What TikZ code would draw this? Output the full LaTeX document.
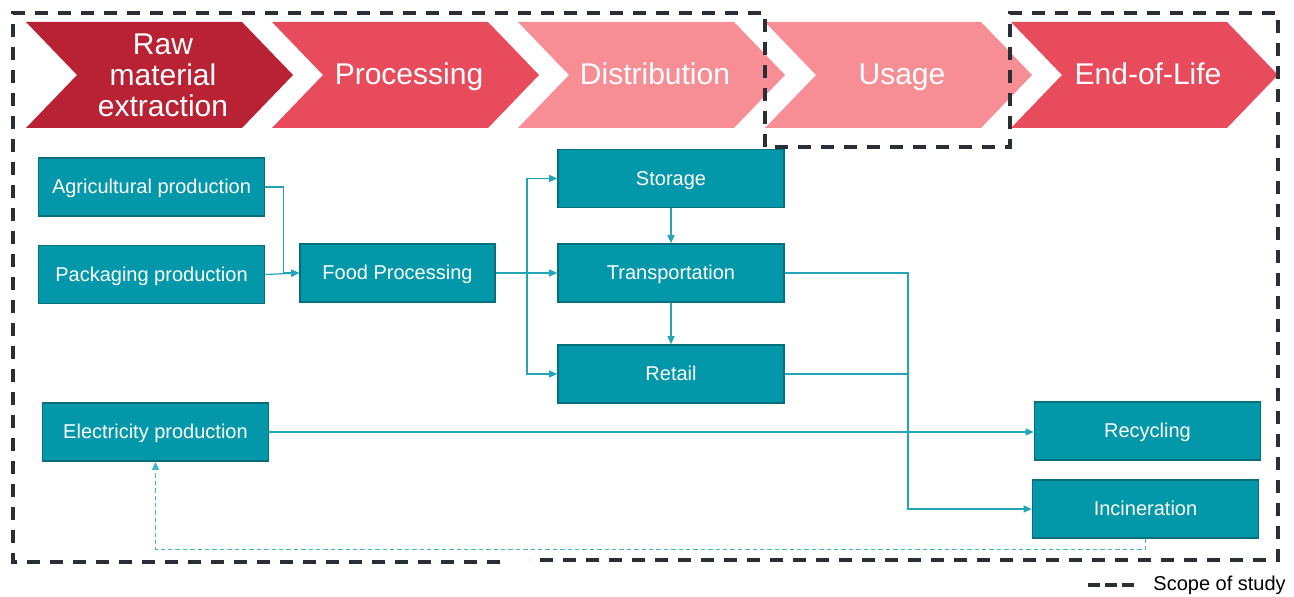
\documentclass[tikz,border=0pt]{standalone}
\usepackage{fontspec}
\setmainfont{Liberation Sans}
\usetikzlibrary{arrows.meta}

\definecolor{rawred}{HTML}{B82234}
\definecolor{stagered}{HTML}{E84B5B}
\definecolor{stagepink}{HTML}{F88E95}
\definecolor{boxfill}{HTML}{0397AA}
\definecolor{boxedge}{HTML}{056F7C}
\definecolor{flowteal}{HTML}{23A5B8}
\definecolor{loopteal}{HTML}{3DB6C9}
\definecolor{scopegrey}{HTML}{2A2F36}

\begin{document}
\begin{tikzpicture}[x=0.5pt,y=-0.5pt,
	stage/.style={text=white,align=center,font=\fontsize{15}{15.5}\selectfont},
	stageline/.style={stage,text height=12.5pt,text depth=2.5pt},
	proc/.style={draw=boxedge,line width=0.8pt,fill=boxfill,text=white,font=\fontsize{10}{12}\selectfont,minimum width=113pt,minimum height=29pt,inner sep=0pt,text height=8.5pt,text depth=1.5pt},
	flow/.style={draw=flowteal,line width=0.6pt,-{Triangle[length=4pt,width=3.5pt]}},
	link/.style={draw=flowteal,line width=0.6pt},
	scope/.style={draw=scopegrey,line width=2pt,dash pattern=on 6.5pt off 5pt}]
	\useasboundingbox (0,0) rectangle (1294,597);
	% life cycle stages
	\foreach \l/\col/\sty/\lbl [count=\i] in {26/rawred/stage/{Raw\\material\\extraction}, 272/stagered/stageline/Processing, 518/stagepink/stageline/Distribution, 765/stagepink/stageline/Usage, 1011/stagered/stageline/End-of-Life} {
		\fill[\col] (\l,22) -- ++(216,0) -- ++(51,53) -- ++(-51,53) -- ++(-216,0) -- ++(51,-53) -- cycle;
		\node[\sty] (stage\i) at (\l+137,75) {\lbl};
	}
	% processes
	\node[proc] (agri) at (151.5,187) {Agricultural production};
	\node[proc] (pack) at (151.5,274.5) {Packaging production};
	\node[proc,minimum width=97.5pt] (food) at (397.5,273) {Food Processing};
	\node[proc] (stor) at (671,178.5) {Storage};
	\node[proc] (trans) at (671,273) {Transportation};
	\node[proc] (retail) at (671,374) {Retail};
	\node[proc] (elec) at (155.5,432) {Electricity production};
	\node[proc] (recyc) at (1147.5,431) {Recycling};
	\node[proc] (incin) at (1145.5,509) {Incineration};
	\coordinate (split) at (527,273);
	\coordinate (waste) at (908,273);
	% flows
	\draw[flow] (agri.east) -- ++(18,0) |- (food.west);
	\draw[flow] (pack.east) -- (food.west);
	\draw[flow] (food.east) -- (trans.west);
	\draw[flow] (split) |- (stor.west);
	\draw[flow] (split) |- (retail.west);
	\draw[flow] (stor) -- (trans);
	\draw[flow] (trans) -- (retail);
	\draw[flow] (trans.east) -- (waste) |- (incin.west);
	\draw[link] (retail.east) -- (retail.east -| waste);
	\draw[flow] (elec.east) -- (elec.east -| recyc.west);
	\draw[flow,draw=loopteal,line width=0.7pt,dash pattern=on 2.2pt off 1.5pt] (incin.south) -- ++(0,11) -| (elec.south);
	% scope of study
	\draw[scope] (500,562) -- (13,562) -- (13,13) -- (765,13) -- (765,147) -- (1010,147) -- (1010,13) -- (1278,13) -- (1278,560) -- (530,560);
	\node[anchor=west,inner sep=0pt,font=\fontsize{10}{12}\selectfont] (key) at (1153,585) {Scope of study};
	\coordinate (keystart) at (1088,585);
	\draw[scope,dash pattern=on 6pt off 2.5pt] (keystart) -- ++(46,0);
\end{tikzpicture}
\end{document}
